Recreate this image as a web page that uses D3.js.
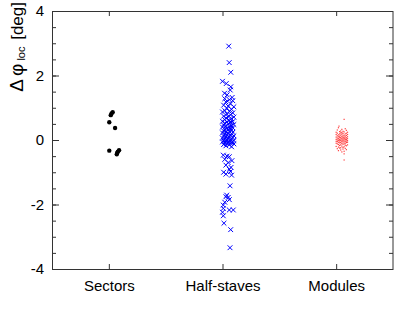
<!DOCTYPE html>
<html>
<head>
<meta charset="utf-8">
<script src="https://cdn.jsdelivr.net/npm/d3@7"></script>
<style>
  body { margin: 0; background: #fff; }
  text { font-family: "Liberation Sans", Arial, sans-serif; }
</style>
</head>
<body>
<div id="vis"></div>
<script>
// categories on the x axis (position 1, 2, 3)
const categories = ["Sectors", "Half-staves", "Modules"];
const yTicks = [-4, -2, 0, 2, 4];

// [value in deg, x jitter in category units]
const sectorPoints = [
  [0.86, 0.034], [0.82, 0.024], [0.77, 0.017], [0.55, 0.004], [0.37, 0.055],
  [-0.33, 0.004], [-0.32, 0.09], [-0.36, 0.08], [-0.39, 0.075], [-0.44, 0.07]
];

const halfStavePoints = [
  [2.91, 0.055], [2.40, 0.059], [2.10, 0.073], [1.82, 0.000], [1.75, 0.033],
  [1.65, 0.073], [1.55, 0.068], [1.45, 0.018], [1.40, 0.041], [1.32, 0.085],
  [1.28, 0.02], [1.25, 0.06], [1.22, 0.09], [1.18, 0.03], [1.12, 0.07],
  [1.08, 0.01], [1.05, 0.05], [1.03, 0.10], [0.98, 0.04], [0.95, 0.08],
  [0.91, 0.02], [0.89, 0.06], [0.87, 0.00], [0.84, 0.09], [0.80, 0.04],
  [0.78, 0.07], [0.74, 0.01], [0.72, 0.05], [0.71, 0.10], [0.68, 0.03],
  [0.66, 0.08], [0.63, 0.02], [0.61, 0.06],
  [0.58, 0.00], [0.57, 0.09], [0.56, 0.04], [0.54, 0.07], [0.52, 0.02],
  [0.50, 0.05], [0.48, 0.10], [0.46, 0.01], [0.45, 0.08], [0.43, 0.03],
  [0.41, 0.06], [0.40, 0.00], [0.38, 0.09], [0.36, 0.04], [0.35, 0.07],
  [0.33, 0.02], [0.32, 0.05], [0.30, 0.08],
  [0.28, 0.01], [0.27, 0.06], [0.25, 0.03], [0.24, 0.09], [0.22, 0.00],
  [0.21, 0.05], [0.19, 0.08], [0.18, 0.02], [0.16, 0.07], [0.15, 0.04],
  [0.13, 0.10], [0.12, 0.01], [0.10, 0.06], [0.09, 0.03], [0.08, 0.09],
  [0.06, 0.00], [0.05, 0.05], [0.03, 0.08], [0.02, 0.02], [0.01, 0.07],
  [0.00, 0.04], [-0.01, 0.10], [-0.02, 0.01], [-0.03, 0.06], [-0.04, 0.03],
  [-0.05, 0.09], [-0.06, 0.00], [-0.07, 0.05], [-0.08, 0.08], [-0.09, 0.02],
  [-0.10, 0.07], [-0.11, 0.04], [-0.12, 0.10], [-0.14, 0.01], [-0.15, 0.06],
  [-0.18, 0.03], [-0.21, 0.08],
  [-0.47, 0.007], [-0.50, 0.04], [-0.52, 0.06], [-0.60, 0.02], [-0.64, 0.083],
  [-0.70, 0.05], [-0.78, 0.03], [-0.85, 0.075], [-0.91, 0.06], [-0.98, 0.07],
  [-1.00, 0.01], [-1.06, 0.03], [-1.09, 0.08], [-1.42, 0.066], [-1.71, 0.037],
  [-1.76, 0.03], [-1.78, 0.05], [-1.85, 0.06], [-1.93, 0.02], [-2.02, 0.007],
  [-2.12, 0.007], [-2.17, 0.06], [-2.17, 0.095], [-2.24, 0.0], [-2.35, 0.007],
  [-2.58, 0.013], [-2.78, 0.072], [-3.34, 0.066]
];

const modulePoints = [
  [0.64, 0.07], [0.43, 0.025], [-0.43, 0.07], [-0.62, 0.07],
  [0.38, 0.02], [0.35, 0.08], [0.33, 0.05], [0.31, 0.01], [0.30, 0.09],
  [0.28, 0.04], [0.27, 0.06], [0.26, 0.03], [0.25, 0.07], [0.24, 0.00],
  [0.24, 0.10], [0.23, 0.05],
  [-0.25, 0.03], [-0.26, 0.08], [-0.27, 0.01], [-0.28, 0.06], [-0.30, 0.09],
  [-0.31, 0.04], [-0.33, 0.02], [-0.35, 0.07], [-0.37, 0.05],
  [0.22, 0.04], [0.21, 0.09], [0.21, 0.01], [0.20, 0.06], [0.19, 0.03],
  [0.19, 0.08], [0.18, 0.05], [0.17, 0.00], [0.17, 0.10], [0.16, 0.02],
  [0.15, 0.07], [0.15, 0.04], [0.14, 0.09], [0.13, 0.06], [0.13, 0.01],
  [0.12, 0.08], [0.12, 0.03], [0.11, 0.05], [0.10, 0.10], [0.10, 0.02],
  [0.09, 0.07], [0.09, 0.00], [0.08, 0.06], [0.08, 0.04], [0.07, 0.09],
  [0.07, 0.03], [0.06, 0.08], [0.06, 0.01], [0.05, 0.05], [0.05, 0.07],
  [0.04, 0.02], [0.04, 0.10], [0.03, 0.04], [0.03, 0.06], [0.02, 0.00],
  [0.02, 0.09], [0.01, 0.03], [0.01, 0.08], [0.00, 0.05], [0.00, 0.01],
  [0.00, 0.07], [-0.01, 0.02], [-0.01, 0.06], [-0.02, 0.10], [-0.02, 0.04],
  [-0.03, 0.09], [-0.03, 0.03], [-0.04, 0.00], [-0.04, 0.08], [-0.05, 0.05],
  [-0.05, 0.01], [-0.06, 0.07], [-0.06, 0.06], [-0.07, 0.02], [-0.07, 0.10],
  [-0.08, 0.04], [-0.08, 0.09], [-0.09, 0.03], [-0.10, 0.08], [-0.10, 0.00],
  [-0.11, 0.05], [-0.12, 0.07], [-0.12, 0.01], [-0.13, 0.06], [-0.14, 0.02],
  [-0.15, 0.10], [-0.15, 0.04], [-0.16, 0.08], [-0.17, 0.03], [-0.18, 0.09],
  [-0.19, 0.05], [-0.20, 0.00], [-0.21, 0.07], [-0.22, 0.02], [-0.23, 0.06],
  [-0.24, 0.04]
];

const W = 407, H = 313;
const margin = { top: 11, right: 14, bottom: 44, left: 52 },
      width = W - margin.left - margin.right,
      height = H - margin.top - margin.bottom;

const svg = d3.select("#vis").append("svg")
  .attr("width", W)
  .attr("height", H);

const g = svg.append("g")
  .attr("transform", `translate(${margin.left},${margin.top})`);

const x = d3.scaleLinear().domain([0.5, 3.5]).range([0, width]);
const y = d3.scaleLinear().domain([-4, 4]).range([height, 0]);

const minorTicks = d3.range(-4, 4.01, 0.5);
const axisColor = "#333";

function styleAxis(sel) {
  sel.select(".domain").remove();
  sel.selectAll("line").attr("stroke", axisColor);
  sel.selectAll("text")
    .attr("fill", "#000")
    .style("font-size", "15px")
    .style("font-family", "'Liberation Sans', Arial, sans-serif");
}

// left axis: minor + major ticks, pointing inside
g.append("g")
  .call(d3.axisLeft(y).tickValues(minorTicks).tickSize(-4).tickFormat(""))
  .call(styleAxis);
g.append("g")
  .call(d3.axisLeft(y).tickValues(yTicks).tickSize(-7).tickPadding(8)
    .tickFormat(d => String(d)))
  .call(styleAxis);

// right axis
g.append("g")
  .attr("transform", `translate(${width},0)`)
  .call(d3.axisRight(y).tickValues(minorTicks).tickSize(-4).tickFormat(""))
  .call(styleAxis);
g.append("g")
  .attr("transform", `translate(${width},0)`)
  .call(d3.axisRight(y).tickValues(yTicks).tickSize(-7).tickFormat(""))
  .call(styleAxis);

// bottom axis with category labels
g.append("g")
  .attr("transform", `translate(0,${height})`)
  .call(d3.axisBottom(x).tickValues([1, 2, 3]).tickSize(-5).tickPadding(11)
    .tickFormat(d => categories[d - 1]))
  .call(styleAxis);

// top axis
g.append("g")
  .call(d3.axisTop(x).tickValues([1, 2, 3]).tickSize(-5).tickFormat(""))
  .call(styleAxis);

// frame
g.append("rect")
  .attr("x", 0.5).attr("y", 0.5)
  .attr("width", width - 0.5).attr("height", height)
  .attr("fill", "none")
  .attr("stroke", axisColor);

// y title
const title = svg.append("text")
  .attr("transform", "translate(23,2) rotate(-90)")
  .attr("text-anchor", "end")
  .style("font-size", "17px");
title.append("tspan").text("Δφ").style("font-size", "19px").attr("letter-spacing", "3px");
title.append("tspan").text("loc").style("font-size", "11px").attr("dy", 2);
title.append("tspan").text(" [deg]").attr("dy", -2).attr("dx", 2);

// sectors: black dots
g.append("g").selectAll("circle")
  .data(sectorPoints)
  .join("circle")
  .attr("cx", d => x(1 + d[1]))
  .attr("cy", d => y(d[0]))
  .attr("r", 2.2)
  .attr("fill", "#000");

// half-staves: blue crosses
const cs = 2.4;
g.append("g").selectAll("path")
  .data(halfStavePoints)
  .join("path")
  .attr("d", d => {
    const px = x(2 + d[1]), py = y(d[0]);
    return `M${px - cs},${py - cs}L${px + cs},${py + cs}M${px - cs},${py + cs}L${px + cs},${py - cs}`;
  })
  .attr("stroke", "#0000ff")
  .attr("stroke-width", 1)
  .attr("fill", "none");

// modules: tiny red dots
g.append("g").selectAll("rect")
  .data(modulePoints)
  .join("rect")
  .attr("x", d => x(3 + d[1]) - 0.6)
  .attr("y", d => y(d[0]) - 0.6)
  .attr("width", 1.2)
  .attr("height", 1.2)
  .attr("fill", "#ff0000")
  .attr("opacity", 0.75);
</script>
</body>
</html>
